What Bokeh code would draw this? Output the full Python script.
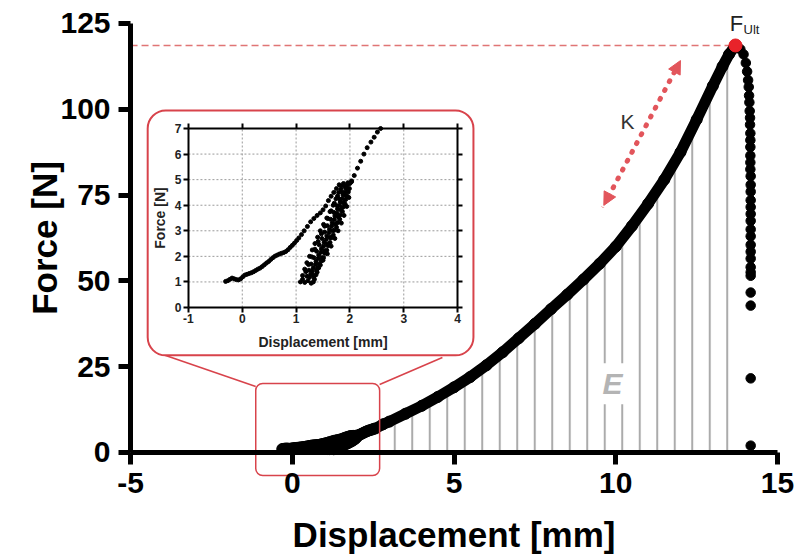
import math
from bokeh.plotting import figure
from bokeh.models import (Range1d, LinearAxis, FixedTicker, Label, Arrow, NormalHead)
from bokeh.core.properties import value
from bokeh.embed import file_html
from bokeh.resources import INLINE

# ---------------- data ----------------
# first (preconditioning) loading branch  [mm, N]
branch_x = [-0.31, -0.27, -0.23, -0.19, -0.15, -0.11, -0.07, -0.03, 0.01, 0.05, 0.09, 0.13,
            0.17, 0.21, 0.25, 0.29, 0.33, 0.37, 0.41, 0.45, 0.49, 0.53, 0.57, 0.61, 0.65,
            0.69, 0.73, 0.77, 0.81, 0.85, 0.89, 0.93, 0.97, 1.01, 1.05, 1.10, 1.15, 1.21,
            1.27, 1.33, 1.39, 1.45, 1.50, 1.55, 1.60, 1.65, 1.70, 1.75, 1.80]
branch_y = [1.02, 1.05, 1.10, 1.15, 1.12, 1.09, 1.08, 1.12, 1.20, 1.27, 1.30, 1.33,
            1.36, 1.40, 1.45, 1.50, 1.54, 1.60, 1.67, 1.74, 1.80, 1.88, 1.95, 2.01, 2.05,
            2.09, 2.12, 2.15, 2.19, 2.26, 2.35, 2.43, 2.52, 2.62, 2.72, 2.85, 3.00, 3.17,
            3.35, 3.48, 3.60, 3.70, 3.82, 3.97, 4.18, 4.35, 4.50, 4.65, 4.80]

# repeated preconditioning cycles (dense band)
cyc1_x = [1.08, 1.12, 1.16, 1.20, 1.25, 1.30, 1.35, 1.40, 1.45, 1.51, 1.57, 1.63, 1.69, 1.74, 1.79, 1.84]
cyc1_y = [1.00, 1.25, 1.50, 1.75, 2.00, 2.25, 2.50, 2.75, 3.00, 3.25, 3.50, 3.75, 4.00, 4.25, 4.50, 4.75]
cyc2_x = [1.16, 1.20, 1.24, 1.28, 1.33, 1.38, 1.43, 1.48, 1.53, 1.58, 1.64, 1.70, 1.76, 1.81, 1.86, 1.90]
cyc2_y = [0.98, 1.22, 1.46, 1.70, 1.95, 2.20, 2.45, 2.70, 2.95, 3.20, 3.45, 3.72, 3.98, 4.24, 4.50, 4.76]
cyc3_x = [1.22, 1.27, 1.32, 1.37, 1.42, 1.47, 1.52, 1.57, 1.62, 1.67, 1.72, 1.77, 1.82, 1.87, 1.92, 1.96]
cyc3_y = [1.05, 1.30, 1.55, 1.80, 2.05, 2.30, 2.55, 2.80, 3.05, 3.30, 3.58, 3.85, 4.12, 4.40, 4.66, 4.88]
cyc4_x = [1.28, 1.33, 1.38, 1.43, 1.48, 1.53, 1.58, 1.63, 1.68, 1.73, 1.78, 1.83, 1.88, 1.92, 1.96, 2.00]
cyc4_y = [0.95, 1.20, 1.45, 1.70, 1.95, 2.22, 2.48, 2.74, 3.00, 3.27, 3.55, 3.82, 4.10, 4.38, 4.62, 4.85]
cyc5_x = [1.34, 1.39, 1.45, 1.51, 1.57, 1.63, 1.69, 1.75, 1.81, 1.86, 1.91, 1.95, 1.99, 2.03]
cyc5_y = [1.10, 1.38, 1.66, 1.95, 2.24, 2.54, 2.84, 3.14, 3.45, 3.75, 4.05, 4.35, 4.65, 4.92]
cyc6_x = [1.30, 1.40, 1.50, 1.58, 1.65, 1.72, 1.78, 1.84, 1.89, 1.94, 1.98]
cyc6_y = [1.30, 1.55, 1.85, 2.10, 2.40, 2.70, 3.00, 3.30, 3.60, 3.95, 4.30]
cyc7_x = [1.12, 1.18, 1.23, 1.29, 1.35, 1.41, 1.47, 1.53, 1.59, 1.65, 1.71, 1.77, 1.83, 1.88]
cyc7_y = [1.10, 1.40, 1.68, 1.98, 2.28, 2.58, 2.88, 3.18, 3.48, 3.78, 4.08, 4.36, 4.62, 4.85]
cyc8_x = [1.25, 1.30, 1.36, 1.41, 1.46, 1.51, 1.56, 1.61, 1.66, 1.71, 1.76, 1.81, 1.86, 1.91, 1.95]
cyc8_y = [1.18, 1.42, 1.68, 1.92, 2.16, 2.40, 2.66, 2.92, 3.18, 3.44, 3.70, 3.98, 4.25, 4.52, 4.78]
cyc9_x = [1.32, 1.37, 1.42, 1.47, 1.53, 1.59, 1.65, 1.71, 1.77, 1.82, 1.87, 1.92, 1.97]
cyc9_y = [1.00, 1.28, 1.55, 1.82, 2.12, 2.42, 2.72, 3.02, 3.32, 3.62, 3.92, 4.22, 4.52]

# final loading to failure
load_x = [2.03, 2.08, 2.14, 2.20, 2.26, 2.32, 2.39, 2.45, 2.51, 2.57, 2.8, 3.0, 3.5, 4.0,
          4.5, 5.0, 5.5, 6.0, 6.5, 7.0, 7.5, 8.0, 8.5, 9.0, 9.5, 10.0, 10.5, 11.0, 11.5,
          12.0, 12.5, 13.0, 13.3, 13.5, 13.7]
load_y = [4.95, 5.16, 5.45, 5.72, 6.00, 6.25, 6.47, 6.66, 6.86, 7.00, 8.2, 9.0, 11.3, 13.6,
          16.2, 19.0, 22.0, 25.4, 29.2, 33.3, 37.5, 41.8, 46.0, 50.4, 55.0, 60.0, 66.0, 72.5,
          79.5, 87.5, 97.0, 106.8, 112.5, 116.0, 118.6]

# post-peak failure points
fail_x = [13.85, 13.95, 14.02, 14.06, 14.09, 14.11, 14.12, 14.13, 14.14, 14.15, 14.15, 14.16,
          14.16, 14.16, 14.16, 14.16, 14.16, 14.17, 14.17, 14.17, 14.17, 14.17, 14.17, 14.17,
          14.17, 14.17, 14.17, 14.17, 14.17, 14.17, 14.17, 14.17, 14.17, 14.17, 14.17, 14.17]
fail_y = [117.5, 116.0, 113.5, 111.0, 108.5, 106.5, 104.0, 102.0, 99.5, 97.5, 95.5, 93.0,
          91.0, 89.0, 86.5, 84.5, 82.5, 80.5, 78.0, 76.0, 73.5, 71.5, 69.5, 67.5, 65.0,
          63.0, 60.5, 58.5, 56.5, 54.0, 52.5, 51.5, 46.6, 42.8, 21.6, 2.0]

peak_x = [13.7]
peak_y = [118.6]

# ticks
main_xticks = [-5, 0, 5, 10, 15]
main_yticks = [0, 25, 50, 75, 100, 125]
inset_xticks = [-1, 0, 1, 2, 3, 4]
inset_yticks = [0, 1, 2, 3, 4, 5, 6, 7]

# ---------------- layout constants ----------------
AX_X = (-5, 15)            # main axis extent
AX_Y = (0, 125)
VIEW_X = (-9.02, 15.71)    # whole canvas in main units (axes drawn inside frame)
VIEW_Y = (-31.47, 131.70)
INSET_XLIM = (-1, 4)
INSET_YLIM = (0, 7)
IN_X_MAIN = (-3.21, 5.11)   # where the inset x-limits sit in main units
IN_Y_MAIN = (42.25, 94.4)   # where the inset y-limits sit in main units

RED = "#d8434b"
RED_DOT = "#e8232a"
RED_ARROW = "#e2555b"
FONT = "Liberation Sans"


def remap(v, src, dst):
    return dst[0] + (v - src[0]) * (dst[1] - dst[0]) / (src[1] - src[0])


def hyphen_labels(ticks):
    return {t: str(t) for t in ticks if t < 0}


p = figure(width=800, height=560,
           x_range=Range1d(*VIEW_X), y_range=Range1d(*VIEW_Y),
           output_backend="svg", toolbar_location=None,
           x_axis_location=None, y_axis_location=None,
           min_border_left=0, min_border_right=0,
           min_border_top=0, min_border_bottom=0)
p.grid.visible = False
p.outline_line_color = None
p.background_fill_color = "white"
p.border_fill_color = "white"

p.extra_x_ranges = {"ix": Range1d(remap(VIEW_X[0], IN_X_MAIN, INSET_XLIM),
                                  remap(VIEW_X[1], IN_X_MAIN, INSET_XLIM))}
p.extra_y_ranges = {"iy": Range1d(remap(VIEW_Y[0], IN_Y_MAIN, INSET_YLIM),
                                  remap(VIEW_Y[1], IN_Y_MAIN, INSET_YLIM))}

# ---- energy hatch under the final loading curve ----
hx = [x for x in load_x if x >= 2.8]
hy = [y for x, y in zip(load_x, load_y) if x >= 2.8]
p.varea(x=hx, y1=0, y2=hy, fill_color=None, fill_alpha=0,
        hatch_pattern="vertical_line", hatch_color="#ababab",
        hatch_weight=2, hatch_scale=17.5)

# ---- ultimate force dashed reference ----
p.line(x=[AX_X[0], peak_x[0]], y=[peak_y[0], peak_y[0]], line_color="#e07575",
       line_width=1.5, line_dash="7 4")

# ---- main curve ----
cycles_x = cyc1_x + cyc2_x + cyc3_x + cyc4_x + cyc5_x + cyc6_x + cyc7_x + cyc8_x + cyc9_x
cycles_y = cyc1_y + cyc2_y + cyc3_y + cyc4_y + cyc5_y + cyc6_y + cyc7_y + cyc8_y + cyc9_y
p.line(x=load_x, y=load_y, line_color="black", line_width=11, line_join="round",
       line_cap="round")
p.scatter(x=branch_x + cycles_x + load_x, y=branch_y + cycles_y + load_y,
          size=11, color="black")
p.scatter(x=fail_x, y=fail_y, size=9.5, color="black")

p.scatter(x=peak_x, y=peak_y, size=13, color=RED_DOT)

# ---- zoom box, callout and inset frame ----
p.quad(left=[-1.13], right=[2.70], bottom=[-6.7], top=[20.1], fill_color=None,
       line_color=RED, line_width=1.5, border_radius=7)
p.segment(x0=[-4.07, 4.64], y0=[28.8, 27.7], x1=[-1.13, 2.70], y1=[19.2, 19.8],
          line_color=RED, line_width=1.6)
p.quad(left=[-4.47], right=[5.60], bottom=[28.3], top=[99.65], fill_color="white",
       line_color=RED, line_width=2, border_radius=18)

# ---- inset contents ----
ins = dict(x_range_name="ix", y_range_name="iy")
gx = inset_xticks[1:-1]
gy = inset_yticks[1:-1]
p.segment(x0=gx, y0=[INSET_YLIM[0]] * len(gx), x1=gx, y1=[INSET_YLIM[1]] * len(gx),
          line_color="#9a9a9a", line_width=1, line_dash="2 2", **ins)
p.segment(x0=[INSET_XLIM[0]] * len(gy), y0=gy, x1=[INSET_XLIM[1]] * len(gy), y1=gy,
          line_color="#9a9a9a", line_width=1, line_dash="2 2", **ins)
inset_load_x = [x for x, y in zip(load_x, load_y) if y <= INSET_YLIM[1]]
inset_load_y = [y for y in load_y if y <= INSET_YLIM[1]]
p.scatter(x=branch_x + cycles_x + inset_load_x,
          y=branch_y + cycles_y + inset_load_y,
          size=4, color="black", **ins)


def inset_axis(side, loc, bounds, ticks, show_labels):
    ax = LinearAxis(fixed_location=loc, bounds=bounds, ticker=FixedTicker(ticks=ticks),
                    axis_line_width=2, axis_line_color="black",
                    major_tick_line_width=2, major_tick_out=5, major_tick_in=0,
                    minor_tick_out=0, minor_tick_in=0, minor_tick_line_color=None,
                    major_label_text_font=FONT, major_label_text_font_style="bold",
                    major_label_text_font_size="12px", major_label_text_color="#222222",
                    major_label_standoff=2, major_label_overrides=hyphen_labels(ticks),
                    **ins)
    if not show_labels:
        ax.major_label_text_alpha = 0
    p.add_layout(ax, side)


inset_axis("below", INSET_YLIM[0], INSET_XLIM, inset_xticks, True)
inset_axis("left", INSET_XLIM[0], INSET_YLIM, inset_yticks, True)
inset_axis("above", INSET_YLIM[1], INSET_XLIM, inset_xticks, False)
inset_axis("right", INSET_XLIM[1], INSET_YLIM, inset_yticks, False)

p.text(x=[(INSET_XLIM[0] + INSET_XLIM[1]) / 2], y=[INSET_YLIM[0]],
       text=["Displacement [mm]"], y_offset=35, text_align="center",
       text_baseline="middle", text_font=value(FONT), text_font_style="bold",
       text_font_size="14px", text_color="#222222", **ins)
p.text(x=[INSET_XLIM[0]], y=[(INSET_YLIM[0] + INSET_YLIM[1]) / 2],
       text=["Force [N]"], x_offset=-28, angle=math.pi / 2, text_align="center",
       text_baseline="middle", text_font=value(FONT), text_font_style="bold",
       text_font_size="14px", text_color="#222222", **ins)

# ---- annotations ----
p.add_layout(Label(x=9.9, y=20, text="E", text_font=FONT, text_font_style="bold italic",
                   text_font_size="30px", text_color="#b4b4b4", text_align="center",
                   text_baseline="middle", background_fill_color="white",
                   padding=4))
p.add_layout(Arrow(x_start=9.63, y_start=72, x_end=12.0, y_end=114.2,
                   start=NormalHead(size=13, fill_color=RED_ARROW, line_color=RED_ARROW),
                   end=NormalHead(size=13, fill_color=RED_ARROW, line_color=RED_ARROW),
                   line_color=RED_ARROW, line_width=5, line_dash="1 9",
                   line_cap="round"))
p.text(x=[10.36], y=[96.4], text=["K"], text_align="center", text_baseline="middle",
       text_font=value(FONT), text_font_size="21px", text_color="#333333")
p.text(x=peak_x, y=peak_y, text=["F"], x_offset=1, y_offset=-22, text_align="center",
       text_baseline="middle", text_font=value(FONT), text_font_size="22px",
       text_color="#222222")
p.text(x=peak_x, y=peak_y, text=["Ult"], x_offset=16, y_offset=-16, text_align="center",
       text_baseline="middle", text_font=value(FONT), text_font_size="13px",
       text_color="#222222")

# ---- main axes ----
axis_style = dict(axis_line_width=5, axis_line_color="black",
                  major_tick_line_width=5, major_tick_out=12, major_tick_in=0,
                  minor_tick_out=0, minor_tick_in=0, minor_tick_line_color=None,
                  major_label_text_font=FONT, major_label_text_font_style="bold",
                  major_label_text_font_size="30px", major_label_text_color="black")
xax = LinearAxis(fixed_location=AX_Y[0], bounds=AX_X, ticker=FixedTicker(ticks=main_xticks),
                 major_label_standoff=9, major_label_overrides=hyphen_labels(main_xticks),
                 **axis_style)
yax = LinearAxis(fixed_location=AX_X[0], bounds=AX_Y,
                 ticker=FixedTicker(ticks=main_yticks), major_label_standoff=8,
                 **axis_style)
p.add_layout(xax, "below")
p.add_layout(yax, "left")

p.text(x=[(AX_X[0] + AX_X[1]) / 2], y=[AX_Y[0]], text=["Displacement [mm]"],
       y_offset=82, text_align="center", text_baseline="alphabetic",
       text_font=value(FONT), text_font_style="bold", text_font_size="35px",
       text_color="black")
p.text(x=[AX_X[0]], y=[(AX_Y[0] + AX_Y[1]) / 2], text=["Force [N]"],
       x_offset=-86, angle=math.pi / 2, text_align="center", text_baseline="alphabetic",
       text_font=value(FONT), text_font_style="bold", text_font_size="35px",
       text_color="black")

open("out.html", "w").write(file_html(p, INLINE))
